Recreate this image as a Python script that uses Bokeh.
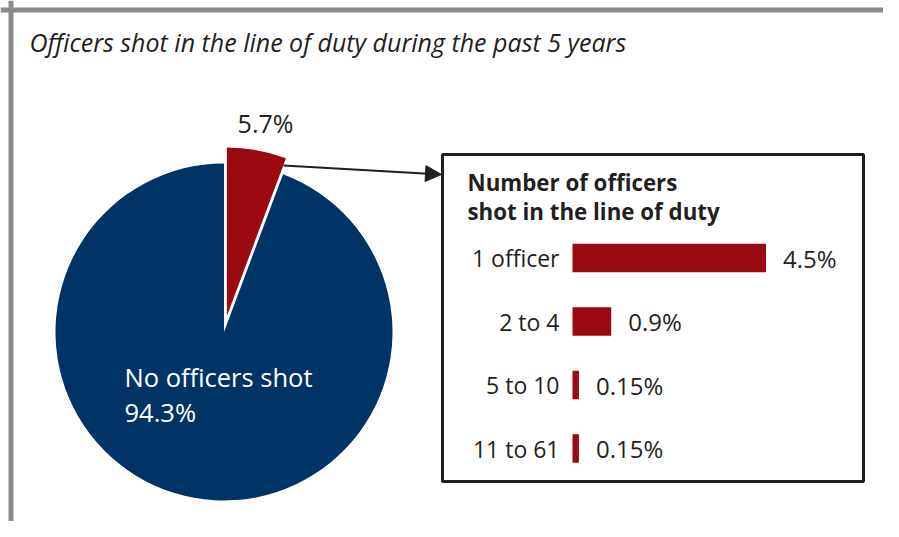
import math
from bokeh.plotting import figure
from bokeh.models import Range1d, ColumnDataSource, Span, BoxAnnotation, Arrow, NormalHead
from bokeh.core.properties import value
from bokeh.embed import file_html
from bokeh.resources import INLINE

# ---------------- data ----------------
title_text = "Officers shot in the line of duty during the past 5 years"
pie_categories = ["No officers shot", "Officers shot"]
pie_values = [94.3, 5.7]
bar_title = ["Number of officers", "shot in the line of duty"]
bar_categories = ["1 officer", "2 to 4", "5 to 10", "11 to 61"]
bar_values = [4.5, 0.9, 0.15, 0.15]

# ---------------- style / layout (pixel positions of the picture) ----------------
W, H = 883, 521
def Y(img_y):
    return H - img_y

DARK = "#231f20"
BLUE = "#003466"
RED = "#9b0a10"
GRAY = "#8b8b8f"
FONT = "Open Sans"

PIE_CX, PIE_CY, PIE_R = 223.5, 331.5, 168.5
EXPLODE = 16.3

BAR_X0 = 572.0
PX_PER_PCT = 43.0
ROW_Y0 = 257.5
ROW_STEP = 63.5
BAR_H = 28.5

p = figure(width=W, height=H, x_range=Range1d(0, W), y_range=Range1d(0, H),
           output_backend="svg", toolbar_location=None, min_border=0,
           x_axis_location=None, y_axis_location=None)
p.grid.visible = False
p.outline_line_color = None
p.background_fill_color = "white"
p.border_fill_color = "white"

p.extra_x_ranges = {"pct": Range1d((0 - BAR_X0) / PX_PER_PCT, (W - BAR_X0) / PX_PER_PCT)}
p.extra_y_ranges = {"row": Range1d((H - ROW_Y0) / ROW_STEP, (0 - ROW_Y0) / ROW_STEP)}

# frame lines
p.add_layout(Span(location=Y(9.5), dimension="width", line_color=GRAY, line_width=5))
p.add_layout(Span(location=10.5, dimension="height", line_color=GRAY, line_width=5))

# title
p.text(x=[29], y=[Y(41.5)], text=[title_text], text_font=value(FONT), text_font_style="italic",
       text_font_size="25px", text_color=DARK, text_baseline="middle", text_align="left")

# ---------------- pie ----------------
total = sum(pie_values)
frac_shot = pie_values[1] / total
frac_none = pie_values[0] / total
shot_start = math.pi / 2 - 2 * math.pi * frac_shot
shot_end = math.pi / 2
none_start = math.pi / 2
none_end = (math.pi / 2 + 2 * math.pi * frac_none) % (2 * math.pi)
mid = (shot_start + shot_end) / 2
ex_x = EXPLODE * math.cos(mid)
ex_y = EXPLODE * math.sin(mid)
pie_src = ColumnDataSource(dict(
    x=[PIE_CX, PIE_CX + ex_x],
    y=[Y(PIE_CY), Y(PIE_CY) + ex_y],
    start=[none_start, shot_start],
    end=[none_end, shot_end],
    color=[BLUE, RED],
))
p.wedge(x="x", y="y", radius=PIE_R, start_angle="start", end_angle="end",
        fill_color="color", line_color=None, source=pie_src)

# pie labels
p.text(x=[124, 124], y=[Y(376.5), Y(411)], text=[pie_categories[0], f"{pie_values[0]:g}%"],
       text_font=value(FONT), text_font_size="25.5px", text_color="white",
       text_baseline="middle", text_align="left")
p.text(x=[265], y=[Y(122)], text=[f"{pie_values[1]:g}%"],
       text_font=value(FONT), text_font_size="25px", text_color=DARK,
       text_baseline="middle", text_align="center")

# arrow
p.add_layout(Arrow(end=NormalHead(size=16, fill_color=DARK, line_color=DARK, line_width=1),
                   x_start=283, y_start=Y(165), x_end=441, y_end=Y(174),
                   line_color=DARK, line_width=2))

# box
p.add_layout(BoxAnnotation(left=442, right=863, top=Y(154), bottom=Y(481),
                           fill_color=None, line_color=DARK, line_alpha=1.0, line_width=3))

# box title
p.text(x=[467, 467], y=[Y(182), Y(211)], text=bar_title, text_font=value(FONT),
       text_font_style="bold", text_font_size="22.3px", text_color=DARK,
       text_baseline="middle", text_align="left")

# ---------------- bars ----------------
rows = list(range(len(bar_categories)))
bar_src = ColumnDataSource(dict(
    y=rows, right=bar_values, cat=bar_categories,
    lab=[f"{v:g}%" for v in bar_values],
))
p.hbar(y="y", left=0, right="right", height=BAR_H / ROW_STEP, fill_color=RED, line_color=None,
       source=bar_src, x_range_name="pct", y_range_name="row")
p.text(x=0, y="y", text="cat", x_offset=-13, text_align="right", text_baseline="middle",
       text_font=value(FONT), text_font_size="23px", text_color=DARK,
       source=bar_src, x_range_name="pct", y_range_name="row")
p.text(x="right", y="y", text="lab", x_offset=17, text_align="left", text_baseline="middle",
       text_font=value(FONT), text_font_size="24px", text_color=DARK,
       source=bar_src, x_range_name="pct", y_range_name="row")

open("out.html", "w").write(file_html(p, INLINE))
